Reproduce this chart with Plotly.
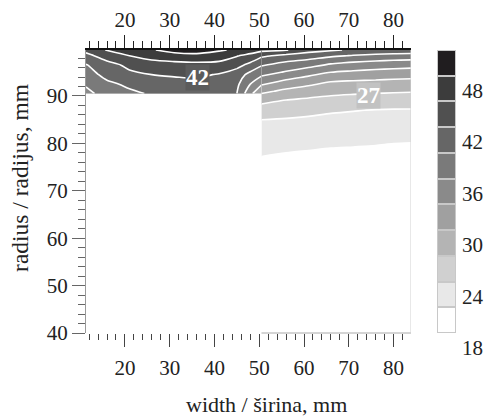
import plotly.graph_objects as go

# ---------------- data ----------------
# narrow upper strip, left part of the section
left_x = [11.3, 16, 21, 26, 31, 36, 41, 45, 48, 50.5]
left_y = [90.5, 92.5, 94.5, 96.5, 98.5, 99.7]
left_z = [
    [35.3, 37.0, 38.4, 39.3, 40.0, 40.3, 40.0, 39.0, 33.8, 29.9],
    [36.3, 38.3, 39.6, 40.6, 41.0, 41.2, 40.6, 39.6, 36.0, 33.3],
    [37.5, 40.0, 41.4, 42.0, 42.3, 42.5, 41.8, 40.6, 38.0, 36.5],
    [38.8, 41.0, 42.6, 43.6, 43.8, 44.0, 43.8, 42.8, 41.2, 39.2],
    [41.2, 43.3, 45.0, 46.2, 47.0, 47.3, 46.8, 45.2, 44.0, 42.5],
    [42.8, 45.2, 47.2, 47.8, 48.9, 49.2, 48.3, 47.6, 46.8, 45.8],
]

# right part of the section (full height)
right_x = [50.5, 56, 61, 66, 71, 76, 80, 83.9]
right_y = [40, 75, 77, 79, 81, 83, 85, 87, 89, 91, 93, 95, 97, 98.5, 99.7]
right_z = [
    [19.0, 19.0, 19.0, 19.0, 19.0, 19.0, 19.0, 19.0],
    [19.5, 19.5, 19.5, 19.5, 19.5, 19.5, 19.5, 19.5],
    [20.9, 20.6, 20.4, 20.2, 20.1, 20.0, 19.9, 19.8],
    [21.7, 21.4, 21.2, 21.0, 20.9, 20.8, 20.6, 20.5],
    [22.4, 22.2, 22.0, 21.8, 21.7, 21.55, 21.45, 21.4],
    [23.2, 23.0, 22.8, 22.6, 22.5, 22.3, 22.2, 22.2],
    [24.0, 23.8, 23.6, 23.4, 23.3, 23.1, 23.0, 23.0],
    [25.7, 25.2, 24.75, 24.3, 24.1, 23.9, 23.8, 23.8],
    [27.7, 26.8, 26.4, 26.0, 25.8, 25.6, 25.5, 25.4],
    [30.7, 29.3, 28.5, 27.9, 27.6, 27.4, 27.3, 27.2],
    [34.2, 32.3, 31.1, 30.0, 29.7, 29.5, 29.3, 29.2],
    [37.2, 35.7, 34.3, 33.0, 32.5, 32.1, 31.9, 31.7],
    [39.95, 38.6, 37.7, 36.4, 35.7, 35.2, 34.9, 34.7],
    [42.55, 41.2, 40.5, 39.5, 38.8, 38.3, 38.0, 37.9],
    [45.8, 45.2, 43.1, 42.4, 41.6, 41.2, 40.9, 40.8],
]

# contour lines at 21..48 every 3; colour bands 18-21 ... 48-51
line_start, line_end, line_step = 21, 48, 3
band_min, band_max = 18, 51
band_colors = ["#ffffff", "#e8e8e8", "#d0d0d0", "#b4b4b4", "#a0a0a0", "#8a8a8a",
               "#7a7a7a", "#666666", "#505050", "#3c3c3c", "#201d1f"]
key_ticks = [18, 24, 30, 36, 42, 48]

contour_labels = ["42", "27"]
label_x = [36.1, 74.4]
label_y = [94.0, 90.2]
label_bg = ["#5b5b5b", "#c2c2c2"]

x_title = "width / širina, mm"
y_title = "radius / radijus, mm"

# ---------------- colour scales ----------------
n_bands = len(band_colors)
# contour fill: band i is coloured at fraction i/(n-1)
contour_scale = [[i / (n_bands - 1), c] for i, c in enumerate(band_colors)]
# key (drawn as a one-column heatmap of the band mid values)
key_mid = [band_min + (i + 0.5) * line_step for i in range(n_bands)]
key_scale = [[0, band_colors[0]]] + \
    [[(m - band_min) / (band_max - band_min), c] for m, c in zip(key_mid, band_colors)] + \
    [[1, band_colors[-1]]]

FONT = "Liberation Serif"
FIG_W, FIG_H = 487, 417
ML, MR, MT, MB = 86, 31, 50, 84
plot_w = FIG_W - ML - MR
main_right = 411 - ML      # right edge of the section plot
key_left = 437 - ML        # left edge of the colour key

common = dict(
    autocontour=False,
    contours=dict(start=line_start, end=line_end, size=line_step,
                  coloring="fill", showlines=True),
    colorscale=contour_scale,
    line=dict(color="white", width=1.6, smoothing=0.8),
    hoverinfo="skip", showscale=False,
)

fig = go.Figure()
fig.add_trace(go.Contour(x=left_x, y=left_y, z=left_z, **common))
fig.add_trace(go.Contour(x=right_x, y=right_y, z=right_z, **common))
# invisible helper trace for the top axis
fig.add_trace(go.Scatter(x=[right_x[0]], y=[right_y[0]], xaxis="x2", yaxis="y",
                         mode="markers", marker=dict(size=1, opacity=0),
                         hoverinfo="skip", showlegend=False))
# colour key
fig.add_trace(go.Heatmap(x=[0], y=key_mid, z=[[m] for m in key_mid],
                         zmin=band_min, zmax=band_max, colorscale=key_scale,
                         showscale=False, xgap=2, ygap=2, hoverinfo="skip",
                         xaxis="x3", yaxis="y3"))

for t, lx, ly, bg in zip(contour_labels, label_x, label_y, label_bg):
    fig.add_annotation(x=lx, y=ly, text="<b>%s</b>" % t, showarrow=False,
                       font=dict(family=FONT, size=23, color="white"),
                       bgcolor=bg, borderpad=0)

# axis titles
fig.add_annotation(xref="x domain", yref="y domain", x=0.554, y=-0.252, text=x_title,
                   showarrow=False, xanchor="center", yanchor="middle",
                   font=dict(family=FONT, size=22, color="#222"))
fig.add_annotation(xref="x domain", yref="y domain", x=-0.203, y=0.548, text=y_title,
                   textangle=-90, showarrow=False, xanchor="center", yanchor="middle",
                   font=dict(family=FONT, size=23.5, color="#222"))

# frame of the right block
fig.add_shape(type="line", xref="x", yref="y domain", x0=right_x[0], x1=right_x[-1],
              y0=0, y1=0, line=dict(color="#aaaaaa", width=1))
fig.add_shape(type="line", xref="x", yref="y domain", x0=right_x[-1], x1=right_x[-1],
              y0=0, y1=1, line=dict(color="#d0d0d0", width=1))
# key border / separators
fig.add_shape(type="rect", xref="x3 domain", yref="y3 domain", x0=0, x1=1, y0=0, y1=1,
              fillcolor="#c8c8c8", line=dict(width=0), layer="below")

tickfont = dict(family=FONT, size=21, color="#222")
fig.update_layout(
    width=FIG_W, height=FIG_H,
    margin=dict(l=ML, r=MR, t=MT, b=MB),
    paper_bgcolor="white", plot_bgcolor="white",
    showlegend=False,
    xaxis=dict(domain=[0, main_right / plot_w], automargin=False,
               range=[left_x[0], right_x[-1]], dtick=10, tick0=0,
               ticks="outside", ticklen=13, tickwidth=1, tickcolor="#444",
               minor=dict(dtick=2, tick0=0, ticks="outside", ticklen=6, tickcolor="#444"),
               showline=False, showgrid=False, zeroline=False,
               tickfont=tickfont, ticklabelstandoff=3),
    xaxis2=dict(domain=[0, main_right / plot_w], automargin=False,
                overlaying="x", matches="x", side="top", anchor="y",
                dtick=10, tick0=0, ticks="outside", ticklen=13, tickwidth=1,
                tickcolor="#222",
                minor=dict(dtick=2, tick0=0, ticks="outside", ticklen=7, tickcolor="#222"),
                showline=True, linecolor="#111", linewidth=1.5,
                showgrid=False, zeroline=False, tickfont=tickfont),
    yaxis=dict(domain=[0, 1], automargin=False, range=[40, 99.7], dtick=10, tick0=0,
               ticks="outside", ticklen=13, tickwidth=1, tickcolor="#666",
               minor=dict(dtick=2, tick0=0, ticks="outside", ticklen=7, tickcolor="#666"),
               showline=True, linecolor="#999", linewidth=1,
               showgrid=False, zeroline=False, tickfont=tickfont),
    xaxis3=dict(domain=[key_left / plot_w, 1], anchor="y3", automargin=False,
                range=[-0.5, 0.5], visible=False, fixedrange=True),
    yaxis3=dict(domain=[0, 1], anchor="x3", side="right", automargin=False,
                range=[band_min, band_max], tickvals=key_ticks, ticks="",
                showline=False, showgrid=False, zeroline=False,
                ticklabelposition="outside bottom", ticklabeloverflow="allow",
                ticklabelstandoff=5, tickfont=tickfont, fixedrange=True),
)

fig.write_html("out.html",
               config={"displayModeBar": False},
               post_script="document.body.style.margin='0';"
                           "document.body.style.overflow='hidden';")
